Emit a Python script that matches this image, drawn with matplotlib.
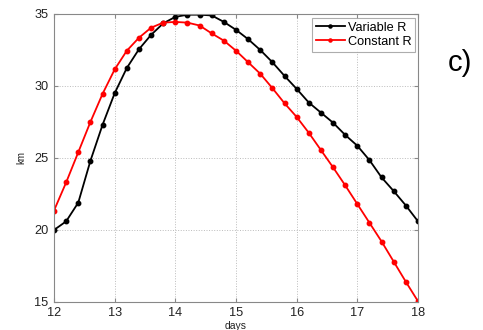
import numpy as np
import matplotlib
matplotlib.use("Agg")
import matplotlib.pyplot as plt

plt.rcParams['font.family'] = ['Liberation Sans', 'DejaVu Sans']

days = [12.0, 12.2, 12.4, 12.6, 12.8, 13.0, 13.2, 13.4, 13.6, 13.8, 14.0, 14.2,
        14.4, 14.6, 14.8, 15.0, 15.2, 15.4, 15.6, 15.8, 16.0, 16.2, 16.4, 16.6,
        16.8, 17.0, 17.2, 17.4, 17.6, 17.8, 18.0]
variable_r = [20.0, 20.6, 21.9, 24.8, 27.3, 29.5, 31.25, 32.55, 33.55, 34.35, 34.8, 34.95,
              34.95, 34.9, 34.45, 33.9, 33.25, 32.5, 31.65, 30.7, 29.8, 28.85, 28.15, 27.45,
              26.6, 25.85, 24.85, 23.65, 22.7, 21.7, 20.6]
constant_r = [21.35, 23.3, 25.4, 27.5, 29.45, 31.15, 32.45, 33.35, 34.05, 34.4, 34.45, 34.4,
              34.2, 33.65, 33.15, 32.45, 31.65, 30.85, 29.85, 28.8, 27.85, 26.75, 25.55, 24.35,
              23.1, 21.8, 20.5, 19.2, 17.8, 16.4, 15.05]
xticks = [12, 13, 14, 15, 16, 17, 18]
yticks = [15, 20, 25, 30, 35]

W, H = 483, 330
fig = plt.figure(figsize=(W / 100, H / 100), dpi=100)
ax = fig.add_axes([54 / W, 1 - 302 / H, (418 - 54) / W, (302 - 14) / H])

ax.plot(days, variable_r, '-o', color='black', lw=1.3, ms=3.2, label='Variable R')
ax.plot(days, constant_r, '-o', color='#ff0000', lw=1.3, ms=3.2, label='Constant R')

ax.set_xlim(12, 18)
ax.set_ylim(15, 35)
ax.set_xticks(xticks)
ax.set_yticks(yticks)
ax.tick_params(direction='in', top=True, right=True, labelsize=9.2, length=3,
               color='#888888', labelcolor='#222222', pad=4)
ax.tick_params(axis='x', pad=3.5)
for s in ax.spines.values():
    s.set_color('#888888')
    s.set_linewidth(0.8)
ax.grid(True, linestyle=':', color='#bbbbbb', linewidth=0.7)

ax.set_xlabel('days', fontsize=7.5, color='#222222')
ax.xaxis.set_label_coords(0.5, (302 - 321) / 288)
ax.set_ylabel('km', fontsize=7, color='#222222')
ax.yaxis.set_label_coords((26 - 54) / 364, (302 - 157) / 288)

leg = ax.legend(loc='upper right', fontsize=9.2, frameon=True, fancybox=False,
                edgecolor='#999999', handlelength=2.3, borderaxespad=0,
                bbox_to_anchor=(415 / W, 1 - 18 / H), bbox_transform=fig.transFigure,
                borderpad=0.3, labelspacing=0.15, handletextpad=0.2, markerscale=0.7)
leg.get_frame().set_linewidth(0.8)

fig.text(460 / W, 1 - 63 / H, 'c)', fontsize=21, ha='center', va='center')

fig.savefig('out.png', dpi=100)
